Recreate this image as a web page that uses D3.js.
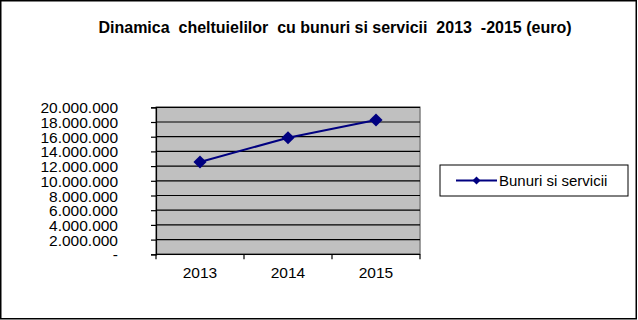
<!DOCTYPE html>
<html>
<head>
<meta charset="utf-8">
<script src="https://cdn.jsdelivr.net/npm/d3@7"></script>
<style>
body{margin:0;background:#fff}
text{font-family:"Liberation Sans",Arial,sans-serif}
</style>
</head>
<body>
<div id="chart"></div>
<script>
var years = ["2013","2014","2015"]
var values = [12560000, 15860000, 18270000]
var seriesName = "Bunuri si servicii"
var yTicks = [0,2000000,4000000,6000000,8000000,10000000,12000000,14000000,16000000,18000000,20000000]
var title = "Dinamica  cheltuielilor  cu bunuri si servicii  2013  -2015 (euro)"

var W = 638, H = 320
var pLeft = 156, pTop = 107.3, pRight = 420, pBottom = 254.3
var lineColor = "#000080"

function fmt(d){
    if(d==0) return "-"
    return d.toString().replace(/\B(?=(\d{3})+(?!\d))/g, ".")
}

var svg = d3.select("#chart").append("svg").attr("width",W).attr("height",H)

svg.append("rect").attr("x",0.75).attr("y",0.75).attr("width",635.5).attr("height",318)
    .attr("fill","#fff").attr("stroke","#000").attr("stroke-width",1.5)

svg.append("text").text(title).attr("x",335).attr("y",33)
    .attr("text-anchor","middle").style("font-size","16px").style("font-weight","bold")
    .style("white-space","pre")

var x = d3.scaleBand().domain(years).range([pLeft,pRight])
var y = d3.scaleLinear().domain([0,20000000]).range([pBottom,pTop])

// plot area
svg.append("rect").attr("x",pLeft).attr("y",pTop).attr("width",pRight-pLeft).attr("height",pBottom-pTop)
    .attr("fill","#c0c0c0").attr("stroke","#808080").attr("stroke-width",1.5)

svg.append("g").selectAll("line").data(yTicks.slice(1)).enter().append("line")
    .attr("x1",pLeft).attr("x2",pRight)
    .attr("y1",function(d){return y(d)}).attr("y2",function(d){return y(d)})
    .attr("stroke","#000").attr("stroke-width",1.2)

var yAxis = svg.append("g").attr("transform","translate("+pLeft+",0)")
    .call(d3.axisLeft(y).tickValues(yTicks).tickFormat(fmt).tickSize(5).tickPadding(33))
yAxis.select(".domain").attr("stroke","#000").attr("stroke-width",1.2)
yAxis.selectAll(".tick line").attr("stroke","#000").attr("stroke-width",1.2)
yAxis.selectAll("text").style("font-size","15.5px").attr("fill","#000")
    .attr("font-family",null).attr("dy","0.36em")

var xAxis = svg.append("g").attr("transform","translate(0,"+pBottom+")")
xAxis.append("line").attr("x1",pLeft).attr("x2",pRight).attr("stroke","#000").attr("stroke-width",1.2)
xAxis.selectAll("line.tk").data([pLeft].concat(years.map(function(d){return x(d)+x.bandwidth()})))
    .enter().append("line").attr("class","tk")
    .attr("x1",function(d){return d}).attr("x2",function(d){return d})
    .attr("y1",0).attr("y2",5).attr("stroke","#000").attr("stroke-width",1.2)
xAxis.selectAll("text").data(years).enter().append("text")
    .text(function(d){return d})
    .attr("x",function(d){return x(d)+x.bandwidth()/2}).attr("y",24)
    .attr("text-anchor","middle").style("font-size","15.5px")

// series
var line = d3.line().x(function(d,i){return x(years[i])+x.bandwidth()/2}).y(function(d){return y(d)})
svg.append("path").datum(values).attr("d",line).attr("fill","none")
    .attr("stroke",lineColor).attr("stroke-width",2)
var diamond = d3.symbol().type(d3.symbolDiamond2).size(110)
svg.selectAll("path.pt").data(values).enter().append("path").attr("class","pt")
    .attr("d",diamond).attr("fill",lineColor)
    .attr("transform",function(d,i){return "translate("+(x(years[i])+x.bandwidth()/2)+","+y(d)+")"})

// legend
var lg = svg.append("g").attr("transform","translate(440,165)")
lg.append("rect").attr("width",188).attr("height",31).attr("fill","#fff").attr("stroke","#000").attr("stroke-width",1)
lg.append("line").attr("x1",16).attr("x2",57).attr("y1",15.5).attr("y2",15.5).attr("stroke",lineColor).attr("stroke-width",2)
lg.append("path").attr("d",d3.symbol().type(d3.symbolDiamond2).size(40)).attr("fill",lineColor)
    .attr("transform","translate(36.5,15.5)")
lg.append("text").text(seriesName).attr("x",59).attr("y",21).style("font-size","15px")
</script>
</body>
</html>
